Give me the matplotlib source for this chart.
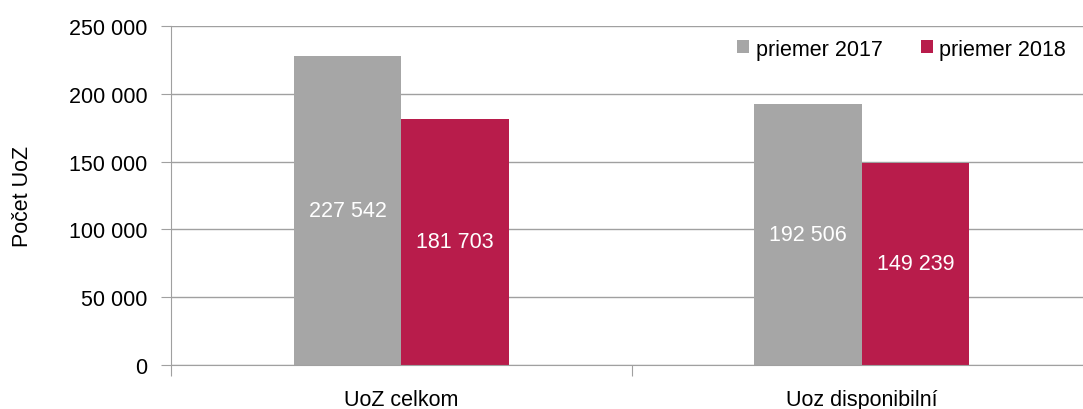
import matplotlib.pyplot as plt
import numpy as np

plt.rcParams['font.family'] = ['Liberation Sans Narrow', 'Liberation Sans', 'DejaVu Sans']

categories = ['UoZ celkom', 'Uoz disponibilní']
series_names = ['priemer 2017', 'priemer 2018']
values_2017 = [227542, 192506]
values_2018 = [181703, 149239]
yticks = [0, 50000, 100000, 150000, 200000, 250000]

colors = ['#A6A6A6', '#B81C4B']


def fmt(v):
    return '{:,}'.format(v).replace(',', ' ')


fig = plt.figure(figsize=(10.83, 4.10), dpi=100)
ax = fig.add_axes([171 / 1083, 44 / 410, 921 / 1083, 339 / 410])

x = np.arange(len(categories))
w = 0.233
bars1 = ax.bar(x - w / 2, values_2017, w, color=colors[0], label=series_names[0], zorder=2)
bars2 = ax.bar(x + w / 2, values_2018, w, color=colors[1], label=series_names[1], zorder=2)

for bars, vals in [(bars1, values_2017), (bars2, values_2018)]:
    for b, v in zip(bars, vals):
        ax.text(b.get_x() + b.get_width() / 2, v / 2, fmt(v), ha='center', va='center',
                color='white', fontsize=15.5)

ax.set_xlim(-0.5, 1.5)
ax.set_ylim(0, 250000)
ax.set_yticks(yticks)
ax.set_yticklabels([fmt(v) for v in yticks], fontsize=15.5)
ax.set_xticks([-0.5, 0.5, 1.5])
ax.set_xticklabels([])
ax.set_xticks(x, minor=True)
ax.set_xticklabels(categories, minor=True, fontsize=15.5)
ax.tick_params(axis='x', which='minor', length=0, pad=17)
ax.tick_params(axis='x', which='major', length=8, color='#A0A0A0')
ax.tick_params(axis='y', length=7, color='#A0A0A0', pad=10)

ax.grid(axis='y', color='#A0A0A0', linewidth=1, zorder=0)
for s in ['top', 'right']:
    ax.spines[s].set_visible(False)
ax.spines['left'].set_color('#A0A0A0')
ax.spines['bottom'].set_color('#A0A0A0')

ax.set_ylabel('Počet UoZ', fontsize=15.5, labelpad=26)

ax.legend(loc='upper right', bbox_to_anchor=(0.993, 1.02), ncol=2, frameon=False,
          fontsize=15.5, handlelength=0.55, handleheight=0.55, handletextpad=0.3,
          columnspacing=1.8)

fig.savefig('out.png', dpi=100)
